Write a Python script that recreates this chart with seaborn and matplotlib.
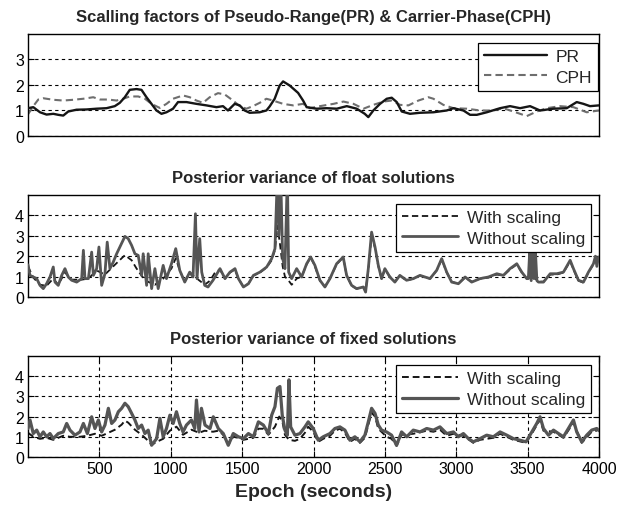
import matplotlib
matplotlib.use("Agg")
import matplotlib.pyplot as plt
import seaborn as sns
import numpy as np

# ---------------- data ----------------
# Top panel: scaling factors
pr_t = [0, 37, 84, 130, 177, 212, 247, 282, 340, 410, 480, 550, 608, 643, 678, 713, 760, 795,
        830, 865, 900, 935, 970, 1016, 1051, 1110, 1180, 1250, 1320, 1366, 1401, 1448, 1483,
        1518, 1553, 1623, 1670, 1693, 1728, 1763, 1787, 1833, 1892, 1927, 1952, 2022, 2092,
        2163, 2233, 2303, 2359, 2384, 2419, 2466, 2513, 2548, 2583, 2618, 2676, 2746, 2840,
        2933, 2980, 3050, 3097, 3144, 3214, 3307, 3377, 3447, 3517, 3587, 3680, 3774, 3844,
        3891, 3937, 4000]
pr_v = [1.09, 1.13, 0.93, 0.84, 0.87, 0.83, 0.80, 0.96, 1.03, 1.04, 1.07, 1.09, 1.17, 1.30,
        1.52, 1.81, 1.84, 1.81, 1.52, 1.26, 1.00, 0.87, 0.93, 1.07, 1.33, 1.33, 1.26, 1.20,
        1.13, 1.17, 1.00, 1.26, 1.20, 1.00, 0.91, 0.93, 1.00, 1.16, 1.46, 1.98, 2.14, 1.98,
        1.69, 1.39, 1.13, 1.07, 1.09, 1.07, 1.17, 1.07, 0.87, 0.74, 1.00, 1.26, 1.46, 1.50,
        1.33, 0.96, 0.87, 0.91, 0.93, 1.00, 1.09, 1.00, 0.83, 0.83, 0.93, 1.09, 1.17, 1.09,
        1.17, 1.00, 1.07, 1.09, 1.33, 1.26, 1.17, 1.20]
cph_t = [0, 37, 72, 107, 177, 247, 317, 387, 457, 504, 562, 620, 667, 713, 772, 819, 865, 923,
         970, 1016, 1086, 1133, 1180, 1226, 1273, 1331, 1378, 1436, 1483, 1530, 1576, 1623,
         1670, 1716, 1787, 1857, 1927, 1975, 2045, 2140, 2210, 2280, 2350, 2419, 2490, 2548,
         2607, 2665, 2735, 2805, 2840, 2910, 2980, 3074, 3167, 3260, 3330, 3400, 3494, 3564,
         3634, 3727, 3821, 3914, 4000]
cph_v = [0.85, 1.17, 1.43, 1.48, 1.42, 1.39, 1.42, 1.46, 1.52, 1.43, 1.43, 1.39, 1.46, 1.55,
         1.55, 1.46, 1.26, 1.10, 1.26, 1.46, 1.59, 1.52, 1.39, 1.30, 1.52, 1.68, 1.63, 1.39,
         1.17, 1.07, 1.17, 1.30, 1.46, 1.39, 1.26, 1.20, 1.26, 1.09, 1.17, 1.26, 1.35, 1.26,
         1.07, 1.22, 1.35, 1.39, 1.22, 1.20, 1.39, 1.52, 1.46, 1.22, 1.09, 1.07, 1.00, 1.00,
         1.09, 0.96, 0.78, 0.96, 1.09, 1.17, 1.13, 0.93, 1.00]

# Middle panel: posterior variance of float solutions
flt_wo_t = [0, 14, 37, 61, 84, 107, 130, 154, 177, 189, 212, 236, 259, 282, 306, 341, 376, 388,
            399, 423, 446, 458, 481, 497, 516, 539, 555, 574, 597, 621, 649, 679, 702, 726, 749,
            772, 796, 807, 831, 842, 866, 889, 912, 947, 970, 1005, 1035, 1063, 1098, 1133,
            1156, 1173, 1184, 1203, 1217, 1238, 1261, 1296, 1331, 1345, 1380, 1415, 1450, 1474,
            1509, 1544, 1579, 1625, 1672, 1707, 1730, 1747, 1758, 1770, 1784, 1800, 1817, 1826,
            1847, 1882, 1917, 1952, 1980, 2010, 2045, 2080, 2115, 2162, 2208, 2232, 2267, 2302,
            2349, 2365, 2384, 2407, 2431, 2454, 2477, 2500, 2535, 2570, 2605, 2652, 2699, 2746,
            2816, 2863, 2898, 2933, 2968, 3015, 3062, 3108, 3167, 3225, 3284, 3330, 3377, 3424,
            3459, 3494, 3505, 3515, 3525, 3535, 3545, 3555, 3565, 3576, 3611, 3658, 3704, 3751,
            3798, 3821, 3856, 3891, 3926, 3961, 3975, 3985, 3996]
flt_wo_v = [1.58, 1.06, 0.98, 0.90, 0.57, 0.41, 0.65, 0.98, 1.47, 0.73, 0.57, 1.06, 1.39, 0.98,
            0.82, 0.73, 0.90, 2.29, 0.90, 0.90, 2.20, 1.06, 1.39, 2.45, 0.57, 1.14, 2.69, 1.39,
            1.71, 2.12, 2.53, 2.97, 2.86, 2.53, 2.12, 2.04, 1.06, 2.12, 0.57, 2.12, 0.41, 1.39,
            0.41, 1.55, 0.90, 1.63, 2.37, 1.31, 0.73, 1.22, 0.98, 4.08, 0.90, 2.86, 1.22, 0.57,
            0.49, 0.82, 1.22, 1.39, 0.90, 1.22, 1.39, 0.90, 0.49, 0.65, 1.06, 1.22, 1.47, 1.88,
            2.37, 6.00, 3.02, 6.00, 1.88, 1.39, 6.00, 1.22, 0.90, 1.39, 0.98, 1.63, 1.96, 1.55,
            0.82, 0.49, 0.90, 1.63, 1.96, 1.06, 0.57, 0.41, 0.49, 0.24, 1.39, 3.18, 2.45, 1.55,
            0.90, 1.39, 0.98, 0.73, 1.06, 0.82, 0.90, 1.06, 0.90, 1.31, 1.88, 1.22, 0.73, 0.65,
            0.98, 0.73, 0.90, 0.98, 1.14, 1.06, 1.39, 1.63, 1.22, 0.90, 0.90, 2.30, 0.80, 2.30,
            0.90, 2.20, 0.80, 0.73, 0.73, 1.14, 1.14, 1.22, 1.80, 1.39, 0.82, 0.73, 1.22, 1.63,
            2.00, 1.50, 1.96]
flt_w_t = [0, 37, 84, 130, 177, 212, 259, 306, 376, 423, 481, 539, 597, 649, 679, 726, 760, 800,
           840, 889, 947, 1005, 1035, 1063, 1098, 1133, 1184, 1238, 1275, 1310, 1345, 1380, 1415,
           1450, 1474, 1509, 1544, 1579, 1625, 1672, 1707, 1730, 1747, 1765, 1784, 1800, 1826,
           1847, 1882, 1917, 1952, 1980, 2010, 2045, 2080, 2115, 2162, 2208, 2232, 2267, 2302,
           2349, 2365, 2384, 2407, 2431, 2454, 2477, 2500, 2535, 2570, 2605, 2652, 2699, 2746,
           2816, 2863, 2898, 2933, 2968, 3015, 3062, 3108, 3167, 3225, 3284, 3330, 3377, 3424,
           3459, 3494, 3541, 3576, 3611, 3658, 3704, 3751, 3798, 3821, 3856, 3891, 3926, 3961,
           3996]
flt_w_v = [1.50, 0.95, 0.60, 0.55, 0.90, 0.60, 1.20, 0.85, 0.85, 0.90, 1.30, 1.10, 1.50, 1.85,
           2.05, 1.80, 1.40, 1.00, 0.75, 0.60, 0.90, 1.40, 1.90, 1.30, 0.75, 1.20, 0.90, 0.60,
           0.80, 1.20, 1.35, 0.90, 1.20, 1.35, 0.90, 0.50, 0.65, 1.05, 1.20, 1.45, 1.80, 2.30,
           3.50, 2.60, 1.50, 1.00, 0.80, 0.60, 0.90, 1.00, 1.60, 1.95, 1.50, 0.80, 0.50, 0.90,
           1.60, 1.95, 1.05, 0.55, 0.40, 0.50, 0.30, 1.30, 3.00, 2.40, 1.50, 0.90, 1.35, 1.00,
           0.75, 1.05, 0.80, 0.90, 1.05, 0.90, 1.30, 1.85, 1.20, 0.75, 0.65, 0.95, 0.75, 0.90,
           0.95, 1.10, 1.05, 1.35, 1.60, 1.20, 0.90, 1.00, 0.75, 0.75, 1.10, 1.10, 1.20, 1.75,
           1.35, 0.80, 0.70, 1.20, 1.60, 1.90]

# Bottom panel: posterior variance of fixed solutions
fix_wo_t = [0, 14, 37, 61, 84, 107, 130, 154, 177, 212, 247, 271, 294, 329, 364, 388, 416, 446,
            469, 493, 516, 539, 563, 586, 609, 633, 656, 679, 702, 726, 749, 772, 796, 819, 842,
            866, 901, 924, 947, 970, 994, 1017, 1040, 1063, 1086, 1110, 1145, 1168, 1180, 1198,
            1215, 1240, 1275, 1298, 1333, 1368, 1403, 1438, 1474, 1509, 1544, 1579, 1614, 1649,
            1684, 1707, 1730, 1747, 1765, 1781, 1800, 1817, 1828, 1840, 1870, 1905, 1940, 1963,
            1998, 2033, 2068, 2115, 2150, 2185, 2220, 2255, 2290, 2325, 2360, 2384, 2407, 2431,
            2454, 2477, 2512, 2547, 2582, 2617, 2653, 2699, 2746, 2793, 2840, 2886, 2933, 2980,
            3015, 3050, 3085, 3120, 3167, 3213, 3260, 3307, 3354, 3400, 3447, 3489, 3529, 3564,
            3587, 3611, 3646, 3681, 3716, 3751, 3786, 3821, 3844, 3879, 3914, 3949, 3984, 4000]
fix_wo_v = [1.41, 1.83, 1.16, 1.33, 1.00, 1.24, 1.00, 1.16, 0.91, 1.16, 1.24, 1.66, 1.33, 1.08,
            1.24, 1.66, 1.16, 1.99, 1.41, 1.83, 1.24, 1.58, 2.41, 1.66, 1.83, 2.24, 2.41, 2.66,
            2.49, 2.16, 1.83, 1.41, 1.58, 1.16, 1.33, 0.58, 0.91, 1.91, 1.00, 1.41, 2.07, 1.66,
            2.24, 1.66, 1.24, 1.58, 1.83, 1.41, 2.82, 1.24, 2.41, 1.58, 1.41, 1.99, 1.41, 1.16,
            0.58, 1.16, 1.00, 0.91, 1.16, 1.00, 1.74, 1.58, 1.16, 2.07, 2.49, 3.40, 3.49, 2.07,
            1.33, 1.08, 3.82, 1.49, 1.08, 1.16, 1.49, 1.74, 1.41, 0.83, 1.00, 1.16, 1.41, 1.49,
            1.33, 0.83, 1.00, 0.75, 1.08, 1.74, 2.41, 2.16, 1.58, 1.33, 1.24, 1.08, 0.58, 1.24,
            1.00, 1.33, 1.24, 1.41, 1.33, 1.49, 1.16, 1.24, 1.00, 1.16, 0.91, 0.75, 0.91, 1.08,
            1.00, 1.24, 1.08, 0.91, 0.83, 0.75, 1.24, 1.66, 1.99, 1.41, 1.08, 1.33, 1.16, 1.00,
            1.41, 1.83, 1.24, 0.75, 1.08, 1.33, 1.41, 1.30]
fix_w_t = [0, 37, 84, 130, 177, 247, 294, 364, 416, 469, 516, 563, 609, 656, 679, 702, 749, 796,
           842, 866, 901, 947, 994, 1040, 1086, 1145, 1198, 1238, 1296, 1333, 1368, 1403, 1438,
           1474, 1509, 1579, 1614, 1649, 1684, 1730, 1760, 1781, 1800, 1828, 1870, 1905, 1940,
           1963, 1998, 2033, 2068, 2115, 2150, 2185, 2220, 2255, 2290, 2325, 2360, 2407, 2431,
           2454, 2512, 2547, 2582, 2617, 2699, 2793, 2840, 2886, 2933, 2980, 3050, 3120, 3167,
           3260, 3307, 3400, 3489, 3529, 3587, 3611, 3681, 3751, 3821, 3879, 3949, 3984]
fix_w_v = [1.20, 1.00, 0.90, 0.95, 0.85, 1.05, 1.00, 1.00, 1.05, 1.15, 1.05, 1.20, 1.35, 1.60,
           1.80, 1.70, 1.35, 1.10, 0.80, 0.60, 0.75, 0.90, 1.30, 1.50, 1.10, 1.35, 1.20, 1.30,
           1.25, 1.30, 1.10, 0.60, 1.00, 0.95, 0.85, 0.95, 1.40, 1.40, 1.10, 1.50, 2.00, 1.80,
           1.10, 0.85, 0.80, 0.90, 1.20, 1.50, 1.25, 0.75, 0.90, 1.05, 1.30, 1.40, 1.20, 0.75,
           0.90, 0.70, 0.95, 2.20, 2.00, 1.40, 1.00, 0.90, 0.55, 1.10, 1.15, 1.30, 1.25, 1.35,
           1.05, 1.15, 1.05, 0.70, 0.85, 0.95, 1.15, 0.85, 0.70, 1.15, 1.85, 1.30, 1.25, 0.95,
           1.70, 0.70, 1.25, 1.30]

titles = ["Scalling factors of Pseudo-Range(PR) & Carrier-Phase(CPH)",
          "Posterior variance of float solutions",
          "Posterior variance of fixed solutions"]
xticks = [500, 1000, 1500, 2000, 2500, 3000, 3500, 4000]
xlabel = "Epoch (seconds)"

# ---------------- style ----------------
sns.set_theme(style="white")
plt.rcParams['font.family'] = ['Liberation Sans', 'DejaVu Sans']
plt.rcParams['axes.edgecolor'] = 'black'
plt.rcParams['axes.linewidth'] = 1.0

fig = plt.figure(figsize=(6.27, 5.10), dpi=100)
W = 571 / 627
L = 28 / 627
ax1 = fig.add_axes([L, 0.7314, W, 0.200])
ax2 = fig.add_axes([L, 0.4157, W, 0.200])
ax3 = fig.add_axes([L, 0.1020, W, 0.198])

BLACK = '#151515'
GRAY = '#555555'
GRAY2 = '#6e6e6e'
DASH = (0, (3.5, 2))

sns.lineplot(x=pr_t, y=pr_v, ax=ax1, color=BLACK, lw=1.7, label='PR',
             estimator=None, sort=False, zorder=3)
sns.lineplot(x=cph_t, y=cph_v, ax=ax1, color=GRAY2, lw=1.5, linestyle=DASH,
             label='CPH', estimator=None, sort=False, zorder=2)

sns.lineplot(x=flt_w_t, y=flt_w_v, ax=ax2, color=BLACK, lw=1.3, linestyle=DASH,
             label='With scaling', estimator=None, sort=False, zorder=2)
sns.lineplot(x=flt_wo_t, y=flt_wo_v, ax=ax2, color=GRAY, lw=2.0,
             label='Without scaling', estimator=None, sort=False, zorder=3)

sns.lineplot(x=fix_w_t, y=fix_w_v, ax=ax3, color=BLACK, lw=1.4, linestyle=DASH,
             label='With scaling', estimator=None, sort=False, zorder=2)
sns.lineplot(x=fix_wo_t, y=fix_wo_v, ax=ax3, color=GRAY, lw=2.3,
             label='Without scaling', estimator=None, sort=False, zorder=3)

grid_kw = dict(color='black', linestyle=(0, (3, 3)), linewidth=0.8)
for i, ax in enumerate([ax1, ax2, ax3]):
    ax.set_xlim(0, 4000)
    ax.set_xticks(xticks)
    ax.set_title(titles[i], fontsize=12, fontweight='bold', pad=9)
    ax.set_xlabel('')
    ax.set_ylabel('')
    ax.tick_params(direction='in', length=4, width=0.8, labelsize=11.5, pad=3,
                   left=True, right=True, bottom=True, top=True, colors='black')
    for s in ax.spines.values():
        s.set_visible(True)
        s.set_color('black')
        s.set_linewidth(1.0)

ax1.set_ylim(0, 4)
ax1.set_yticks([0, 1, 2, 3])
ax2.set_ylim(0, 5)
ax2.set_yticks([0, 1, 2, 3, 4])
ax3.set_ylim(0, 5)
ax3.set_yticks([0, 1, 2, 3, 4])

for ax in (ax1, ax2):
    ax.yaxis.grid(True, **grid_kw)
    ax.xaxis.grid(False)
    ax.tick_params(axis='x', labelbottom=False, bottom=False, top=False)
ax3.grid(True, **grid_kw)
ax3.set_xlabel(xlabel, fontsize=14, fontweight='bold', labelpad=5)

leg_kw = dict(loc='upper right', fontsize=12.5, frameon=True, fancybox=False, framealpha=1,
              edgecolor='black', borderpad=0.35, labelspacing=0.3,
              handletextpad=0.5, borderaxespad=0)
for ax, anchor, hl in ((ax1, (0.998, 0.912), 3.6), (ax2, (0.986, 0.912), 3.2),
                       (ax3, (0.986, 0.91), 3.2)):
    lg = ax.legend(bbox_to_anchor=anchor, handlelength=hl, **leg_kw)
    lg.get_frame().set_linewidth(0.9)
    lg.set_zorder(10)

fig.savefig('out.png', dpi=100)
